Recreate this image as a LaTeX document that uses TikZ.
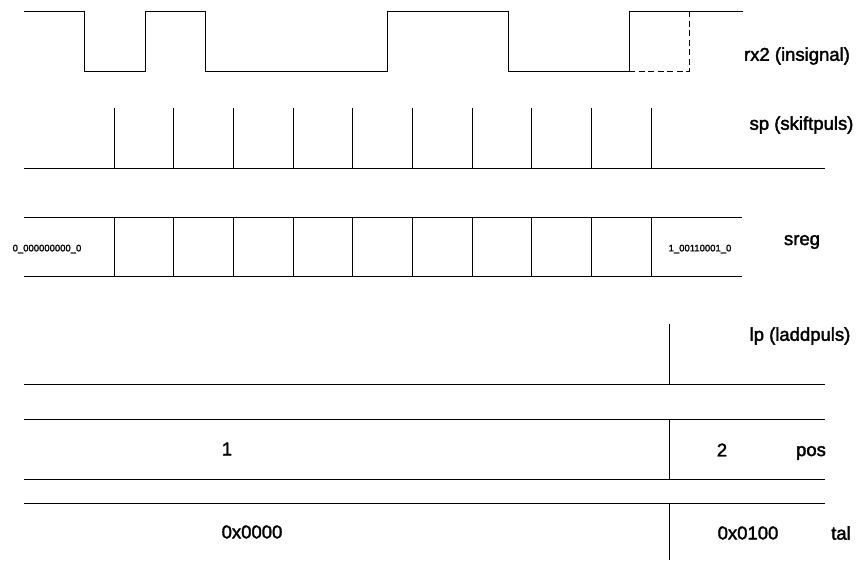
\documentclass[tikz,border=0pt]{standalone}
\usepackage{fontspec}
\setmainfont{Liberation Sans}
\newfontfamily\lblfont{Liberation Sans}[FakeBold=2]
\usepackage{tikz}
\usetikzlibrary{arrows.meta,calc}

\tikzset{
    lbl/.style={inner sep=0pt, font=\lblfont\fontsize{18.5}{22}\selectfont},
    smalllbl/.style={inner sep=0pt, font=\lblfont\fontsize{9.5}{11}\selectfont},
    sig/.style={line width=0.9pt},
}

\begin{document}
\begin{tikzpicture}[x=10pt, y=-10pt, sig]
    \useasboundingbox (0,0) rectangle (86.1,56);

    % rx2 (insignal)
    \draw (2.4,1.1) -- (8.4,1.1) -- (8.4,7.1) -- (14.5,7.1) -- (14.5,1.1)
        -- (20.5,1.1) -- (20.5,7.1) -- (38.7,7.1) -- (38.7,1.1)
        -- (50.8,1.1) -- (50.8,7.1) -- (62.9,7.1) -- (62.9,1.1) -- (74.3,1.1);
    \draw[dash pattern=on 6pt off 3.5pt] (62.9,7.1) -- (68.9,7.1) -- (68.9,1.1);
    \node[lbl] (rx2) at (79.7,5.6) {rx2 (insignal)};

    % skiftpulser
    \draw (2.4,16.8) -- (82.5,16.8);
    \foreach \i in {0,...,9} {
        \draw ({11.4+5.97*\i},10.8) -- ({11.4+5.97*\i},16.8);
    }
    \node[lbl] (sp) at (80.15,12.5) {sp (skiftpuls)};

    % skiftregister
    \draw (2.4,21.7) -- (74.2,21.7);
    \draw (2.4,27.6) -- (74.2,27.6);
    \foreach \i in {0,...,9} {
        \draw ({11.4+5.97*\i},21.7) -- ({11.4+5.97*\i},27.6);
    }
    \node[smalllbl] (sregA) at (4.7,24.9) {0\_000000000\_0};
    \node[smalllbl] (sregB) at (70.0,24.9) {1\_00110001\_0};
    \node[lbl] (sreg) at (80.2,24.2) {sreg};

    % laddpuls
    \draw (66.9,32.4) -- (66.9,38.4);
    \draw (2.4,38.4) -- (82.5,38.4);
    \node[lbl] (lp) at (80.0,33.6) {lp (laddpuls)};

    % pos
    \draw (2.4,41.9) -- (82.5,41.9);
    \draw (2.4,47.9) -- (82.5,47.9);
    \draw (66.9,41.9) -- (66.9,47.9);
    \node[lbl] (posA) at (22.7,44.9) {1};
    \node[lbl] (posB) at (72.2,45.0) {2};
    \node[lbl] (pos) at (81.1,45.3) {pos};

    % tal
    \draw (2.4,50.3) -- (82.5,50.3);
    \draw (66.9,50.3) -- (66.9,56);
    \node[lbl] (talA) at (25.2,53.2) {0x0000};
    \node[lbl] (talB) at (74.8,53.3) {0x0100};
    \node[lbl] (tal) at (84.1,53.3) {tal};
\end{tikzpicture}
\end{document}
